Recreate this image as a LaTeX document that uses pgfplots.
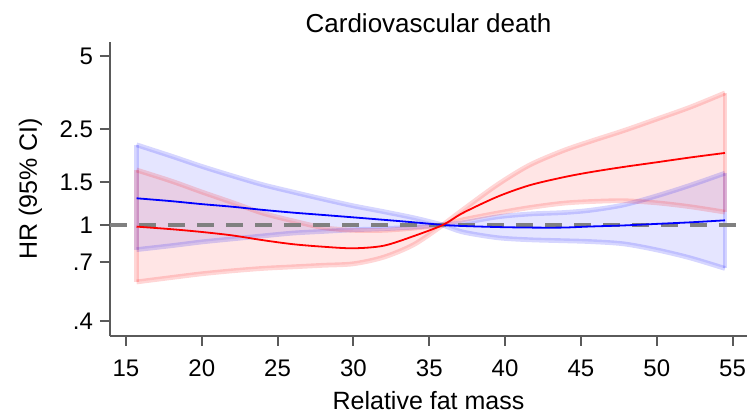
\documentclass[border=0pt]{standalone}
\usepackage{fontspec}
\setmainfont{Liberation Sans}
\usepackage{pgfplots}
\pgfplotsset{compat=1.18}
\usepgfplotslibrary{fillbetween}
\usetikzlibrary{calc}
\definecolor{axisgray}{RGB}{90,90,90}
\definecolor{refgray}{RGB}{128,128,128}
\definecolor{cvred}{RGB}{255,0,0}
\definecolor{cvblue}{RGB}{0,0,255}
\tikzset{
  bandB/.style={draw=cvblue, draw opacity=0.16, line width=2.4bp, smooth, tension=0.5},
  bandR/.style={draw=cvred, draw opacity=0.16, line width=2.4bp, smooth, tension=0.5},
}

\begin{document}
\begin{tikzpicture}
\begin{axis}[
  scale only axis, width=318.5bp, height=147.15bp,
  xmin=13.95, xmax=55.95, ymin=0.346, ymax=5.76,
  ymode=log, yminorticks=false,
  axis lines=left, axis line style={draw=axisgray, line width=1bp, -},
  xtick={15,20,25,30,35,40,45,50,55},
  xticklabels={15,20,25,30,35,40,45,50,55},
  ytick={0.4,0.7,1,1.5,2.5,5},
  yticklabels={.4,.7,1,1.5,2.5,5},
  tick align=outside, major tick length=5bp,
  tick style={draw=axisgray, line width=1bp},
  ticklabel style={font=\fontsize{12bp}{14bp}\selectfont},
  xticklabel style={anchor=base, yshift=-15.5bp},
  xlabel={Relative fat mass},
  xlabel style={font=\fontsize{12.5bp}{15bp}\selectfont, at={(axis description cs:0.5,0)}, anchor=base, yshift=-36.5bp},
  ylabel={HR (95\% CI)},
  ylabel style={font=\fontsize{12.5bp}{15bp}\selectfont, at={(axis description cs:0,0.5)}, anchor=base, yshift=36.5bp},
  title={Cardiovascular death},
  title style={font=\fontsize{13bp}{16bp}\selectfont, at={(axis description cs:0.5,1)}, anchor=base, yshift=-1.6bp},
  clip=false,
]
% blue confidence band, split at the reference point
\addplot[name path=bul, bandB] coordinates {(15.7,2.15) (18,1.93) (20,1.75) (22,1.60) (24,1.47) (26,1.37) (28,1.28) (30,1.20) (32,1.135) (34,1.07) (35.9,1)};
\addplot[name path=bll, bandB] coordinates {(15.7,0.79) (18,0.82) (20,0.85) (22,0.875) (24,0.90) (26,0.925) (28,0.94) (30,0.955) (32,0.965) (34,0.98) (35.9,1)};
\addplot[name path=bur, bandB] coordinates {(35.9,1) (37.2,1.02) (39.5,1.08) (41.6,1.11) (43.8,1.125) (45.6,1.15) (47.8,1.21) (50,1.32) (52.2,1.46) (54.5,1.64)};
\addplot[name path=blr, bandB] coordinates {(35.9,1) (37.2,0.935) (39.5,0.885) (41.6,0.868) (43.8,0.86) (45.6,0.853) (47.8,0.835) (50,0.788) (52.2,0.73) (54.5,0.66)};
\addplot[fill=cvblue, fill opacity=0.1, draw=none] fill between[of=bul and bll];
\addplot[fill=cvblue, fill opacity=0.1, draw=none] fill between[of=bur and blr];
\addplot[bandB, sharp plot] coordinates {(15.7,0.79) (15.7,2.15)};
\addplot[bandB, sharp plot] coordinates {(54.5,0.66) (54.5,1.64)};
% red confidence band
\addplot[name path=rul, bandR] coordinates {(15.7,1.69) (18,1.52) (20,1.37) (22,1.24) (24,1.12) (26,1.04) (28,0.975) (30,0.95) (32,0.95) (34,0.97) (35.9,1)};
\addplot[name path=rll, bandR] coordinates {(15.7,0.58) (18,0.605) (20,0.627) (22,0.645) (24,0.66) (26,0.67) (28,0.68) (30,0.69) (32,0.735) (34,0.83) (35.9,1)};
\addplot[name path=rur, bandR] coordinates {(35.9,1) (37.2,1.154) (39.5,1.47) (41.6,1.77) (43.8,2.03) (45.6,2.22) (47.8,2.46) (50,2.75) (52.2,3.08) (54.5,3.53)};
\addplot[name path=rlr, bandR] coordinates {(35.9,1) (37.2,1.05) (39.5,1.12) (41.6,1.18) (43.8,1.23) (45.6,1.25) (47.8,1.26) (50,1.235) (52.2,1.19) (54.5,1.13)};
\addplot[fill=cvred, fill opacity=0.1, draw=none] fill between[of=rul and rll];
\addplot[fill=cvred, fill opacity=0.1, draw=none] fill between[of=rur and rlr];
\addplot[bandR, sharp plot] coordinates {(15.7,0.58) (15.7,1.69)};
\addplot[bandR, sharp plot] coordinates {(54.5,1.13) (54.5,3.53)};
% reference line
\addplot[draw=refgray, line width=1.6bp, dash pattern=on 8.5bp off 6bp]
  coordinates {(13.95,1) (55.95,1)};
% point estimates
\addplot[draw=cvblue, line width=0.9bp, smooth]
  coordinates {(15.7,1.29) (18,1.255) (20,1.22) (22,1.19) (24,1.155) (26,1.125) (28,1.10) (30,1.075) (32,1.05) (34,1.025) (35.9,1)
    (37.2,0.99) (39.5,0.98) (41.6,0.975) (43.8,0.975) (45.6,0.985) (47.8,0.995) (50,1.01) (52.2,1.025) (54.5,1.045)};
\addplot[draw=cvred, line width=0.9bp, smooth]
  coordinates {(15.7,0.984) (18,0.96) (20,0.935) (22,0.905) (24,0.865) (26,0.832) (28,0.812) (30,0.80) (32,0.82) (34,0.90) (35.9,1)
    (37.2,1.12) (39.5,1.31) (41.6,1.46) (43.8,1.575) (45.6,1.655) (47.8,1.74) (50,1.82) (52.2,1.905) (54.5,1.99)};
\coordinate (sw) at (rel axis cs:0,0);
\coordinate (ne) at (rel axis cs:1,1);
\end{axis}
\pgfresetboundingbox
\path[use as bounding box] ($(sw)+(-55bp,-39bp)$) rectangle ($(ne)+(4bp,20.85bp)$);
\end{tikzpicture}
\end{document}
